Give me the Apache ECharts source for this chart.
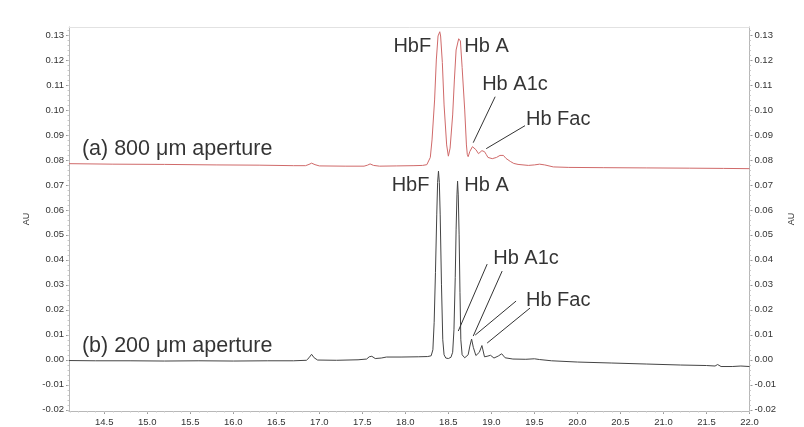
<!DOCTYPE html>
<html>
<head>
<meta charset="utf-8">
<script src="https://cdn.jsdelivr.net/npm/echarts@6/dist/echarts.min.js"></script>
<style>
  html, body { margin: 0; padding: 0; background: #fff; }
  #chart { width: 804px; height: 427px; }
</style>
</head>
<body>
<div id="chart"></div>
<script>
// Migration time axis (min) and absorbance axis (AU) tick labels
const xTickLabels = [14.5, 15.0, 15.5, 16.0, 16.5, 17.0, 17.5, 18.0, 18.5, 19.0, 19.5, 20.0, 20.5, 21.0, 21.5, 22.0];
const yTickLabels = [-0.02, -0.01, 0.00, 0.01, 0.02, 0.03, 0.04, 0.05, 0.06, 0.07, 0.08, 0.09, 0.10, 0.11, 0.12, 0.13];

// (a) 800 µm aperture trace, shifted up on the shared AU scale
const trace800 = [
  [14.09, 0.0785], [14.60, 0.0783], [15.20, 0.0782], [15.80, 0.0780], [16.30, 0.0779],
  [16.70, 0.0777], [16.84, 0.0777], [16.88, 0.0782], [16.91, 0.0787], [16.95, 0.0781],
  [17.00, 0.0776], [17.30, 0.0775], [17.52, 0.0775], [17.56, 0.0779], [17.59, 0.0784],
  [17.63, 0.0778], [17.70, 0.0775], [17.90, 0.0776], [18.10, 0.0777], [18.20, 0.0778],
  [18.25, 0.0781], [18.27, 0.0785], [18.29, 0.0810], [18.31, 0.0880], [18.34, 0.1040],
  [18.36, 0.1200], [18.38, 0.1296], [18.40, 0.1313], [18.41, 0.1296], [18.43, 0.1190],
  [18.45, 0.1020], [18.48, 0.0860], [18.50, 0.0815], [18.52, 0.0847], [18.55, 0.0980],
  [18.57, 0.1120], [18.59, 0.1240], [18.62, 0.1285], [18.63, 0.1289], [18.64, 0.1276],
  [18.66, 0.1170], [18.69, 0.1000], [18.71, 0.0860], [18.72, 0.0822], [18.73, 0.0813],
  [18.75, 0.0834], [18.78, 0.0853], [18.80, 0.0857], [18.82, 0.0841], [18.85, 0.0825],
  [18.87, 0.0825], [18.89, 0.0837], [18.92, 0.0833], [18.94, 0.0822], [18.96, 0.0810],
  [19.01, 0.0805], [19.06, 0.0810], [19.10, 0.0818], [19.14, 0.0818], [19.17, 0.0806],
  [19.22, 0.0794], [19.26, 0.0786], [19.31, 0.0782], [19.43, 0.0778], [19.50, 0.0780],
  [19.56, 0.0783], [19.62, 0.0780], [19.72, 0.0772], [19.90, 0.0770], [20.30, 0.0769],
  [20.80, 0.0768], [21.30, 0.0767], [21.70, 0.0766], [22.00, 0.0765]
];

// (b) 200 µm aperture trace
const trace200 = [
  [14.09, -0.0003], [14.40, -0.0004], [14.80, -0.0004], [15.20, -0.0005], [15.60, -0.0004],
  [16.00, -0.0005], [16.40, -0.0004], [16.70, -0.0004], [16.85, -0.0002], [16.88, 0.0008],
  [16.91, 0.0022], [16.94, 0.0008], [16.98, -0.0001], [17.20, -0.0002], [17.45, 0.0000],
  [17.55, 0.0003], [17.58, 0.0012], [17.61, 0.0014], [17.65, 0.0005], [17.72, 0.0007],
  [17.78, 0.0011], [17.95, 0.0011], [18.15, 0.0012], [18.26, 0.0013], [18.30, 0.0016],
  [18.32, 0.0040], [18.335, 0.0150], [18.35, 0.0350], [18.365, 0.0580], [18.375, 0.0710],
  [18.385, 0.0755], [18.395, 0.0710], [18.405, 0.0580], [18.42, 0.0300], [18.435, 0.0080],
  [18.45, 0.0020], [18.47, 0.0007], [18.50, 0.0005], [18.53, 0.0010], [18.55, 0.0030],
  [18.565, 0.0120], [18.58, 0.0330], [18.59, 0.0520], [18.60, 0.0660], [18.607, 0.0715],
  [18.615, 0.0660], [18.625, 0.0500], [18.635, 0.0270], [18.645, 0.0080], [18.66, 0.0020],
  [18.69, 0.0008], [18.73, 0.0020], [18.75, 0.0055], [18.77, 0.0083], [18.79, 0.0050],
  [18.82, 0.0017], [18.86, 0.0030], [18.89, 0.0057], [18.92, 0.0012], [18.95, 0.0014],
  [18.99, 0.0018], [19.03, 0.0007], [19.08, 0.0015], [19.12, 0.0024], [19.16, 0.0008],
  [19.25, 0.0003], [19.40, 0.0002], [19.50, 0.0004], [19.56, 0.0001], [19.70, -0.0004],
  [20.00, -0.0009], [20.40, -0.0013], [20.80, -0.0017], [21.20, -0.0021], [21.50, -0.0023],
  [21.60, -0.0025], [21.63, -0.0019], [21.67, -0.0027], [21.80, -0.0027], [21.90, -0.0025],
  [22.00, -0.0027]
];

// Peak names and panel captions, anchored in data units
const annotations = [
  { name: 'HbF', coord: [18.30, 0.1256], align: 'right' },
  { name: 'Hb A', coord: [18.685, 0.1256], align: 'left' },
  { name: 'Hb A1c', coord: [18.893, 0.1101], align: 'left' },
  { name: 'Hb Fac', coord: [19.402, 0.0961], align: 'left' },
  { name: '(a) 800 μm aperture', coord: [14.24, 0.0845], align: 'left', caption: true },
  { name: 'HbF', coord: [18.28, 0.0698], align: 'right' },
  { name: 'Hb A', coord: [18.685, 0.0698], align: 'left' },
  { name: 'Hb A1c', coord: [19.021, 0.0407], align: 'left' },
  { name: 'Hb Fac', coord: [19.402, 0.0239], align: 'left' },
  { name: '(b) 200 μm aperture', coord: [14.24, 0.0055], align: 'left', caption: true }
];

// Leader lines from labels down to the minor peaks
const leaders = [
  [[19.044, 0.1053], [18.789, 0.0869]],
  [[19.391, 0.0937], [18.940, 0.0845]],
  [[18.951, 0.0383], [18.615, 0.0115]],
  [[19.125, 0.0355], [18.789, 0.0095]],
  [[19.287, 0.0235], [18.812, 0.0099]],
  [[19.449, 0.0207], [18.951, 0.0067]]
];

const X_MIN = 14.09, X_MAX = 22.0;
const Y_MIN = -0.0205, Y_MAX = 0.1332;

const minorX = [];
for (let v = 14.1; v <= 22.0001; v += 0.1) minorX.push(Math.round(v * 10) / 10);
const minorY = [];
for (let v = -0.02; v <= 0.1321; v += 0.002) minorY.push(Math.round(v * 1000) / 1000);

const FONT = 'Liberation Sans, Arial, sans-serif';
const axisColor = '#b8b8b8';
const tickLabel = { fontSize: 9.5, color: '#333', fontFamily: FONT };

function yAxisDef(position, nameGap) {
  return {
    type: 'value', min: Y_MIN, max: Y_MAX, position: position,
    name: 'AU', nameLocation: 'middle', nameGap: nameGap, nameRotate: 90,
    nameTextStyle: { fontSize: 9, color: '#333', fontFamily: FONT },
    axisLine: { show: true, lineStyle: { color: axisColor, width: 1 } },
    axisTick: { show: true, customValues: yTickLabels, length: 3, lineStyle: { color: '#999' } },
    axisLabel: Object.assign({ customValues: yTickLabels, margin: 5,
      formatter: v => v.toFixed(2) }, tickLabel),
    splitLine: { show: false }
  };
}
function yMinorDef(position) {
  return {
    type: 'value', min: Y_MIN, max: Y_MAX, position: position,
    axisLine: { show: false },
    axisTick: { show: true, customValues: minorY, length: 1.5, lineStyle: { color: '#c8c8c8' } },
    axisLabel: { show: false }, splitLine: { show: false }
  };
}

const chart = echarts.init(document.getElementById('chart'), null, { renderer: 'canvas' });
chart.setOption({
  animation: false,
  backgroundColor: '#fff',
  grid: { left: 69, right: 51, top: 27, bottom: 15, containLabel: false },
  xAxis: [
    {
      type: 'value', min: X_MIN, max: X_MAX, position: 'bottom',
      axisLine: { show: true, onZero: false, lineStyle: { color: axisColor, width: 1 } },
      axisTick: { show: true, customValues: xTickLabels, length: 3, lineStyle: { color: '#999' } },
      axisLabel: Object.assign({ customValues: xTickLabels, margin: 6,
        formatter: v => v.toFixed(1) }, tickLabel),
      splitLine: { show: false }
    },
    {
      type: 'value', min: X_MIN, max: X_MAX, position: 'bottom',
      axisLine: { show: false, onZero: false },
      axisTick: { show: true, customValues: minorX, length: 1.5, lineStyle: { color: '#c8c8c8' } },
      axisLabel: { show: false }, splitLine: { show: false }
    },
    {
      type: 'value', min: X_MIN, max: X_MAX, position: 'top',
      axisLine: { show: true, onZero: false, lineStyle: { color: '#e2e2e2', width: 1 } },
      axisTick: { show: false }, axisLabel: { show: false }, splitLine: { show: false }
    }
  ],
  yAxis: [
    yAxisDef('left', 32),
    yAxisDef('right', 32),
    yMinorDef('left'),
    yMinorDef('right')
  ],
  series: [
    {
      name: '800 μm', type: 'line', data: trace800, showSymbol: false,
      lineStyle: { color: '#d06a6a', width: 1 }, z: 3
    },
    {
      name: '200 μm', type: 'line', data: trace200, showSymbol: false,
      lineStyle: { color: '#444', width: 1 }, z: 2
    },
    {
      name: 'labels', type: 'scatter', symbolSize: 0, silent: true, z: 5,
      data: annotations.map(a => ({
        name: a.name, value: a.coord,
        label: {
          show: true, position: [0, 0], formatter: '{b}',
          align: a.align, verticalAlign: 'middle',
          fontSize: a.caption ? 21.5 : 20, color: '#000', fontFamily: FONT
        }
      })),
      markLine: {
        silent: true, symbol: ['none', 'none'], animation: false,
        label: { show: false },
        lineStyle: { color: '#333', width: 1, type: 'solid' },
        data: leaders.map(l => [{ coord: l[0] }, { coord: l[1] }])
      }
    }
  ]
});
</script>
</body>
</html>
